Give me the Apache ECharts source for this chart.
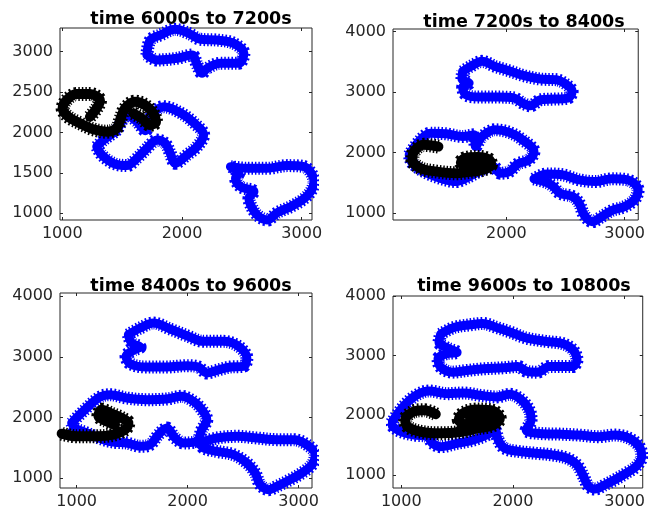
<!DOCTYPE html>
<html>
<head>
<meta charset="utf-8">
<script src="https://cdn.jsdelivr.net/npm/echarts@6/dist/echarts.min.js"></script>
<style>
  html, body { margin: 0; padding: 0; background: #fff; }
  #chart { width: 648px; height: 516px; }
</style>
</head>
<body>
<div id="chart"></div>
<script>
// Panel titles
const titles = ['time 6000s to 7200s', 'time 7200s to 8400s', 'time 8400s to 9600s', 'time 9600s to 10800s'];

// Tick values per panel
const xTicks = [1000, 2000, 3000];
const yTicksFirst = [1000, 1500, 2000, 2500, 3000];
const yTicksOther = [1000, 2000, 3000, 4000];

// Axis ranges per panel: [xmin, xmax, ymin, ymax]
const ranges = [
  [981, 3086, 917, 3293],
  [1041, 3115, 889, 4041],
  [850, 3121, 835, 4053],
  [926, 3162, 778, 4000]
];

// ---- Panel 1 (6000s - 7200s) ----
const p1Top = [[1707,2959],[1735,3144],[1818,3206],[1944,3276],[2056,3227],[2154,3153],[2293,3144],[2433,3103],[2517,2979],[2475,2856],[2321,2856],[2209,2794],[2168,2732],[2126,2835],[2084,2959],[1958,2918],[1791,2897],[1707,2959]];
const p1Mid = [[1288,1825],[1344,1907],[1455,2031],[1539,2216],[1623,2134],[1693,2023],[1749,2216],[1846,2320],[1986,2245],[2098,2122],[2181,1969],[2126,1825],[2042,1722],[1944,1618],[1902,1742],[1860,1866],[1790,1907],[1707,1804],[1623,1680],[1539,1590],[1427,1618],[1330,1722],[1288,1825]];
const p1Right = [[2405,1577],[2545,1557],[2712,1557],[2880,1590],[3019,1577],[3103,1392],[3075,1268],[3005,1165],[2908,1082],[2796,1008],[2712,917],[2628,979],[2573,1103],[2559,1185],[2601,1268],[2489,1330],[2447,1433],[2475,1495],[2405,1577]];
const p1Track = [[1231,2195],[1287,2299],[1315,2393],[1231,2476],[1120,2476],[1037,2402],[1003,2299],[1050,2195],[1148,2114],[1259,2039],[1371,2010],[1454,2052],[1488,2176],[1524,2299],[1607,2381],[1691,2340],[1760,2237],[1783,2133],[1733,2093],[1663,2176],[1593,2237]];

// ---- Panel 2 (7200s - 8400s) ----
const p2Top = [[1630,3342],[1698,3424],[1794,3507],[1904,3424],[2013,3358],[2150,3270],[2287,3215],[2424,3204],[2520,3105],[2556,3011],[2520,2901],[2397,2884],[2287,2873],[2205,2774],[2137,2818],[2068,2901],[1931,2917],[1767,2917],[1657,2956],[1630,3083],[1685,3149],[1624,3215],[1630,3342]];
const p2Mid = [[1178,1964],[1260,2185],[1356,2322],[1493,2311],[1630,2267],[1726,2295],[1740,2102],[1794,2267],[1904,2378],[2027,2333],[2137,2212],[2233,2019],[2191,1882],[2096,1815],[2027,1689],[1945,1661],[1890,1771],[1822,1744],[1685,1606],[1575,1523],[1438,1579],[1301,1689],[1205,1826],[1178,1964]];
const p2Right = [[2233,1568],[2342,1650],[2479,1634],[2616,1551],[2753,1523],[2890,1568],[3027,1551],[3114,1386],[3082,1220],[2999,1110],[2890,1044],[2808,945],[2726,862],[2657,972],[2616,1165],[2561,1276],[2452,1331],[2397,1441],[2342,1507],[2233,1568]];
const p2Track = [[1425,2101],[1302,2129],[1219,2018],[1205,1881],[1274,1744],[1411,1688],[1575,1661],[1712,1688],[1822,1730],[1870,1800],[1850,1890],[1760,1930],[1650,1910],[1615,1840],[1660,1770],[1760,1760],[1820,1820],[1770,1870],[1690,1850],[1720,1800]];

// ---- Panel 3 (8400s - 9600s) ----
const p3Top = [[1466,3365],[1572,3475],[1692,3558],[1842,3459],[1993,3349],[2143,3255],[2324,3255],[2459,3173],[2534,2980],[2504,2843],[2384,2832],[2263,2777],[2173,2733],[2098,2832],[1993,2854],[1812,2832],[1632,2832],[1481,2887],[1445,3008],[1511,3107],[1572,3162],[1496,3228],[1466,3365]];
const p3Mid = [[955,1908],[1075,2128],[1211,2337],[1301,2375],[1451,2320],[1632,2293],[1812,2304],[1947,2348],[2053,2265],[2128,2128],[2173,1963],[2128,1798],[2083,1605],[1963,1578],[1887,1660],[1812,1825],[1737,1715],[1662,1550],[1572,1523],[1451,1578],[1346,1589],[1241,1633],[1090,1743],[985,1825],[955,1908]];
const p3Right = [[2113,1578],[2263,1660],[2444,1688],[2624,1660],[2805,1633],[2955,1633],[3075,1550],[3151,1385],[3121,1220],[3030,1083],[2925,973],[2805,863],[2730,808],[2654,890],[2609,1083],[2534,1248],[2414,1385],[2263,1440],[2143,1495],[2113,1578]];
const p3Track = [[865,1732],[1000,1688],[1180,1688],[1331,1715],[1436,1798],[1466,1908],[1406,1990],[1316,2062],[1226,2128],[1196,2029],[1271,1935],[1346,1880]];

// ---- Panel 4 (9600s - 10800s) ----
const p4Top = [[1353,3361],[1471,3472],[1618,3517],[1729,3539],[1853,3472],[1985,3389],[2118,3295],[2294,3239],[2456,3195],[2544,3084],[2573,2928],[2535,2817],[2426,2817],[2324,2817],[2221,2722],[2118,2739],[2044,2817],[1912,2795],[1735,2778],[1588,2750],[1456,2722],[1353,2806],[1329,2945],[1397,3028],[1500,3056],[1412,3128],[1338,3222],[1353,3361]];
const p4Low = [[912,1872],[1015,2139],[1132,2333],[1250,2406],[1412,2361],[1559,2372],[1706,2333],[1853,2306],[1971,2350],[2074,2261],[2147,2083],[2162,1917],[2118,1750],[2235,1694],[2412,1683],[2588,1667],[2765,1639],[2912,1667],[3044,1611],[3132,1472],[3153,1306],[3103,1139],[3015,1028],[2912,917],[2824,833],[2735,761],[2676,806],[2632,972],[2574,1167],[2485,1278],[2353,1333],[2206,1361],[2059,1389],[1926,1444],[1868,1583],[1838,1750],[1765,1667],[1647,1583],[1500,1528],[1353,1472],[1279,1528],[1235,1639],[1118,1667],[1000,1722],[926,1806],[912,1872]];
const p4Track = [[1309,2017],[1206,2084],[1102,2055],[1035,1928],[1058,1805],[1176,1722],[1353,1695],[1544,1722],[1676,1778],[1823,1833],[1882,1945],[1823,2072],[1676,2095],[1559,2039],[1514,1928],[1588,1833],[1735,1862],[1794,1962],[1691,2017],[1618,1945],[1706,1905]];

const BLUE = '#0000ff';
const BLACK = '#000000';

const panels = [
  { blue: [p1Top, p1Mid, p1Right], black: [p1Track], yTicks: yTicksFirst },
  { blue: [p2Top, p2Mid, p2Right], black: [p2Track], yTicks: yTicksOther },
  { blue: [p3Top, p3Mid, p3Right], black: [p3Track], yTicks: yTicksOther },
  { blue: [p4Top, p4Low], black: [p4Track], yTicks: yTicksOther }
];

// Plot boxes in pixels
const boxes = [
  { left: 60, top: 28, width: 252, height: 192 },
  { left: 393, top: 29, width: 253, height: 191 },
  { left: 60, top: 293, width: 252, height: 195 },
  { left: 393, top: 296, width: 254, height: 192 }
];
const titlePos = [[186, 5], [519, 8], [186, 272], [519, 272]];

const FONT = 'DejaVu Sans';
const TICK_COLOR = '#262626';

const grid = [], xAxis = [], yAxis = [], series = [], title = [];

panels.forEach((p, i) => {
  const [xmin, xmax, ymin, ymax] = ranges[i];
  grid.push(Object.assign({ show: true, borderColor: '#262626', borderWidth: 1, backgroundColor: '#fff' }, boxes[i]));
  title.push({
    text: titles[i], left: titlePos[i][0], top: titlePos[i][1], textAlign: 'center',
    textStyle: { fontFamily: FONT, fontSize: 17.5, fontWeight: 'bold', color: '#000' }
  });
  const base = (pos, ticks, labels, isX) => ({
    type: 'value', gridIndex: i, position: pos,
    min: isX ? xmin : ymin, max: isX ? xmax : ymax,
    axisLine: { show: false },
    splitLine: { show: false },
    axisTick: { show: true, inside: true, length: 3, customValues: ticks, lineStyle: { color: TICK_COLOR } },
    axisLabel: labels ? {
      show: true, customValues: ticks, margin: isX ? 6 : 7,
      formatter: v => String(v),
      fontFamily: FONT, fontSize: 16, color: TICK_COLOR
    } : { show: false }
  });
  xAxis.push(base('bottom', xTicks, true, true));
  xAxis.push(base('top', xTicks, false, true));
  yAxis.push(base('left', p.yTicks, true, false));
  yAxis.push(base('right', p.yTicks, false, false));

  const addPath = (pts, color, core, comb, z) => {
    const common = {
      type: 'line', xAxisIndex: 2 * i, yAxisIndex: 2 * i, data: pts,
      symbol: 'none', smooth: 0.35, clip: false, silent: true, animation: false, z: z
    };
    // solid core of the marker trail
    series.push(Object.assign({}, common, { lineStyle: { color: color, width: core, cap: 'round', join: 'round' } }));
    // fine comb around it, giving the jagged star-marker edge
    series.push(Object.assign({}, common, { lineStyle: { color: color, width: comb, type: [1.5, 2], cap: 'butt' } }));
  };
  p.blue.forEach(s => addPath(s, BLUE, 9, 13, 2));
  p.black.forEach(s => addPath(s, BLACK, 10, 14, 3));
});

const chart = echarts.init(document.getElementById('chart'), null, { renderer: 'canvas' });
chart.setOption({ animation: false, title, grid, xAxis, yAxis, series });
</script>
</body>
</html>
